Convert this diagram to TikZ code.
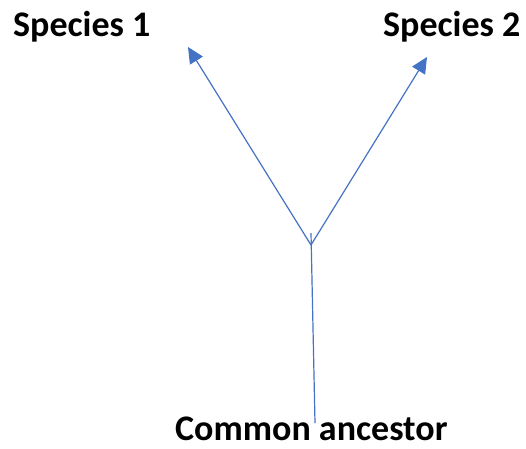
\documentclass[tikz,border=0pt]{standalone}
\usepackage{fontspec}
\setmainfont{Carlito}
\usetikzlibrary{arrows.meta}
\definecolor{lineblue}{HTML}{4472C4}
\tikzset{
  lbl/.style={font=\fontsize{36}{42}\selectfont\bfseries, inner sep=0pt, anchor=base west},
  conn/.style={draw=lineblue, line width=1.2pt},
  arr/.style={conn, -{Triangle[length=16pt,width=15pt]}}
}
\begin{document}
\begin{tikzpicture}[x=1pt,y=-1pt]
\useasboundingbox (0,0) rectangle (526,448);
\node[lbl] (s1) at (13,36) {Species 1};
\node[lbl] (s2) at (383,36) {Species 2};
\node[lbl] (ca) at (175,440) {Common ancestor};
\coordinate (j) at (311,245);
\coordinate (top) at (311,233);
\coordinate (bot) at (315,423);
\coordinate (t1) at (188,47);
\coordinate (t2) at (427,57);
\draw[conn] (bot) -- (top);
\draw[arr] (j) -- (t1);
\draw[arr] (j) -- (t2);
\end{tikzpicture}
\end{document}
